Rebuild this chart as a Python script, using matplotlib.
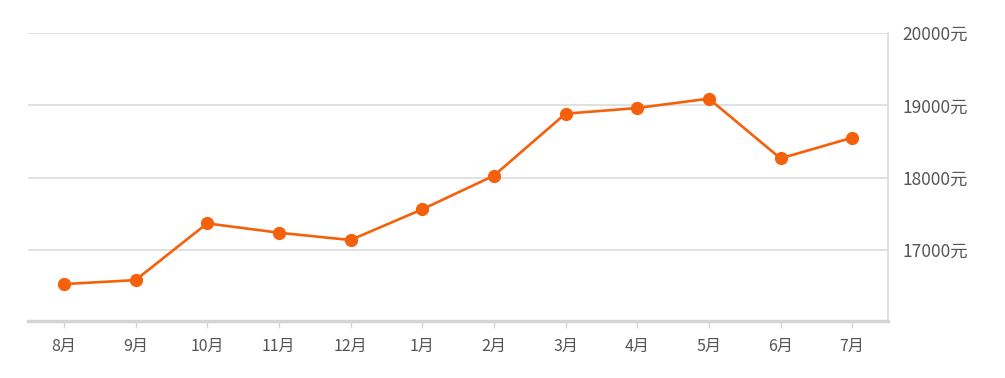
import matplotlib
matplotlib.use("Agg")
import matplotlib.pyplot as plt

plt.rcParams['font.family'] = ['Noto Sans CJK SC', 'DejaVu Sans']

months = ['8月', '9月', '10月', '11月', '12月', '1月', '2月', '3月', '4月', '5月', '6月', '7月']
prices = [16530, 16585, 17369, 17240, 17139, 17563, 18028, 18885, 18963, 19093, 18267, 18553]
yticks = [17000, 18000, 19000, 20000]
ytick_labels = ['17000元', '18000元', '19000元', '20000元']

W, H = 1005, 378
fig = plt.figure(figsize=(W / 100, H / 100), dpi=100)
ax = fig.add_axes([28 / W, 1 - 321 / H, (888 - 28) / W, (321 - 33) / H])

x = list(range(len(months)))
ax.plot(x, prices, color='#F5600A', lw=1.9, marker='o', ms=8.5,
        markerfacecolor='#F5600A', markeredgecolor='#F5600A', zorder=3, clip_on=False)

ax.set_xlim(-0.5, len(months) - 0.5)
ax.set_ylim(16020, 20000)
ax.set_xticks(x)
ax.set_xticklabels(months)
ax.set_yticks(yticks)
ax.set_yticklabels(ytick_labels)
ax.yaxis.tick_right()
ax.grid(axis='y', color='#dcdcdc', lw=1.2)
ax.set_axisbelow(True)

for s in ['left', 'top']:
    ax.spines[s].set_visible(False)
ax.spines['right'].set_color('#dcdcdc')
ax.spines['right'].set_linewidth(1.2)
ax.spines['bottom'].set_color('#d4d4d4')
ax.spines['bottom'].set_linewidth(2.5)

ax.tick_params(axis='x', length=5, width=1, color='#d4d4d4', labelcolor='#555555',
               labelsize=11.5, pad=7)
ax.tick_params(axis='y', length=0, labelsize=12.5, labelcolor='#555555', pad=10.5)

fig.savefig('out.png', dpi=100, facecolor='white')
